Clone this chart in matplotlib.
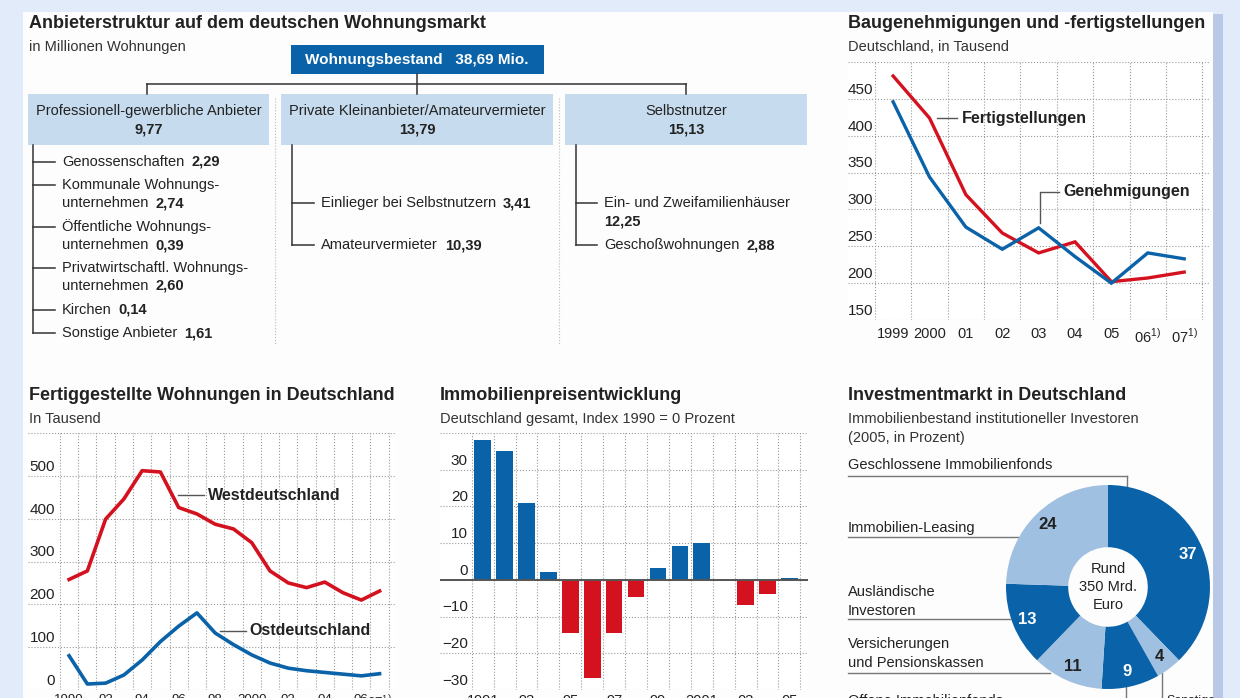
import numpy as np
import matplotlib
matplotlib.use("Agg")
import matplotlib.pyplot as plt
from matplotlib.patches import Rectangle

plt.rcParams['font.family'] = ['Liberation Sans Narrow', 'Liberation Sans', 'DejaVu Sans']
plt.rcParams['mathtext.fontset'] = 'custom'
plt.rcParams['mathtext.rm'] = 'Liberation Sans'

W, H = 1240, 698

# ---- Daten
bestand = "38,69 Mio."
anbieter = ["Professionell-gewerbliche Anbieter", "Private Kleinanbieter/Amateurvermieter", "Selbstnutzer"]
anbieter_werte = ["9,77", "13,79", "15,13"]
prof_items = ["Genossenschaften", "Kommunale Wohnungs-\nunternehmen", "Öffentliche Wohnungs-\nunternehmen",
              "Privatwirtschaftl. Wohnungs-\nunternehmen", "Kirchen", "Sonstige Anbieter"]
prof_werte = ["2,29", "2,74", "0,39", "2,60", "0,14", "1,61"]
priv_items = ["Einlieger bei Selbstnutzern", "Amateurvermieter"]
priv_werte = ["3,41", "10,39"]
selbst_items = ["Ein- und Zweifamilienhäuser", "Geschoßwohnungen"]
selbst_werte = ["12,25", "2,88"]

bau_years = ["1999", "2000", "01", "02", "03", "04", "05", "06$^{1)}$", "07$^{1)}$"]
fertigstellungen = [481, 424, 320, 268, 241, 256, 202, 207, 215]
genehmigungen = [446, 344, 276, 246, 275, 236, 200, 241, 233]

fw_years = ["1990", "92", "94", "96", "98", "2000", "02", "04", "06", "07$^{1)}$"]
west = [258, 278, 399, 446, 512, 509, 426, 411, 387, 376, 344, 278, 250, 239, 252, 227, 210, 231]
ost = [80, 14, 16, 35, 70, 113, 149, 180, 133, 106, 82, 63, 51, 45, 41, 37, 33, 38]

preis_years = ["1991", "93", "95", "97", "99", "2001", "03", "05"]
preis = [38, 35, 21, 2.2, -14.6, -26.6, -14.6, -4.7, 3.2, 9.2, 10.1, 0, -6.8, -3.8, 0.6]

invest_labels = ["Geschlossene Immobilienfonds", "Sonstige", "Offene Immobilienfonds",
                 "Versicherungen\nund Pensionskassen", "Ausländische\nInvestoren", "Immobilien-Leasing"]
invest_values = [37, 4, 9, 11, 13, 24]

RED = '#d4121f'
BLUE = '#0a62a8'
LIGHT = '#9fc0e1'
BOXBLUE = '#c6dbee'
TXT = '#222222'
GRID = '#9a9a9a'

fig = plt.figure(figsize=(W / 100, H / 100), dpi=100, facecolor='#e2ebfa')


def px_axes(x0, y0, x1, y1):
    return fig.add_axes([x0 / W, 1 - y1 / H, (x1 - x0) / W, (y1 - y0) / H])


bg = fig.add_axes([0, 0, 1, 1])
bg.set_xlim(0, W)
bg.set_ylim(H, 0)
bg.axis('off')
bg.add_patch(Rectangle((1213, 14), 10, H, color='#b9c8e5', lw=0))
bg.add_patch(Rectangle((23, 12), 1190, H, color='#fdfdfd', lw=0))


def title(x, y, t, sub):
    bg.text(x, y, t, fontsize=13, fontweight='bold', color=TXT, va='center')
    for i, s in enumerate(sub):
        bg.text(x, y + 23 + 19 * i, s, fontsize=10.5, color='#333333', va='center')


# ---- Anbieterstruktur
title(29, 24, "Anbieterstruktur auf dem deutschen Wohnungsmarkt", ["in Millionen Wohnungen"])
bg.add_patch(Rectangle((291, 45), 253, 29, color=BLUE, lw=0))
bg.text(417, 60, "Wohnungsbestand   " + bestand, color='white', fontsize=11, fontweight='bold',
        ha='center', va='center')
bg.plot([147, 686], [84, 84], color='#333', lw=1.1)
for x in [147, 686]:
    bg.plot([x, x], [84, 94], color='#333', lw=1.1)
bg.plot([417, 417], [74, 94], color='#333', lw=1.1)
boxes = [(28, 269), (281, 553), (565, 807)]
for (x0, x1), name, val in zip(boxes, anbieter, anbieter_werte):
    bg.add_patch(Rectangle((x0, 94), x1 - x0, 51, color=BOXBLUE, lw=0))
    bg.text((x0 + x1) / 2, 111, name, fontsize=10.5, color=TXT, ha='center', va='center')
    bg.text((x0 + x1) / 2, 129, val, fontsize=10.5, fontweight='bold', color=TXT, ha='center', va='center')
for x in [275, 559]:
    bg.plot([x, x], [98, 345], color='#bbbbbb', lw=0.8, ls=':')


def item(x_line, x_text, y, label, value, newline=False):
    bg.plot([x_line, x_text - 7], [y, y], color='#333', lw=1.1)
    lines = label.split("\n")
    t = None
    for k, ln in enumerate(lines):
        t = bg.text(x_text, y + 18 * k, ln, fontsize=10.5, color=TXT, va='center')
    if newline:
        bg.text(x_text, y + 18, value, fontsize=10.5, fontweight='bold', color=TXT, va='center')
    else:
        bg.annotate(value, xy=(1, 0.5), xycoords=t, xytext=(5, 0), textcoords='offset points',
                    fontsize=10.5, fontweight='bold', color=TXT, va='center')


prof_y = [162, 185, 227, 268, 310, 333]
bg.plot([33, 33], [145, 333], color='#333', lw=1.1)
for y, lab, v in zip(prof_y, prof_items, prof_werte):
    item(33, 62, y, lab, v)
bg.plot([292, 292], [145, 245], color='#333', lw=1.1)
for y, lab, v in zip([203, 245], priv_items, priv_werte):
    item(292, 321, y, lab, v)
bg.plot([576, 576], [145, 245], color='#333', lw=1.1)
for y, lab, v, nl in zip([203, 245], selbst_items, selbst_werte, [True, False]):
    item(576, 604, y, lab, v, newline=nl)

# ---- Baugenehmigungen
title(848, 24, "Baugenehmigungen und -fertigstellungen", ["Deutschland, in Tausend"])
ax = px_axes(848, 62, 1210, 320)
ax.set_xlim(-1.24, 8.71)
ax.set_ylim(150, 500)
for v in range(150, 501, 50):
    ax.axhline(v, color=GRID, lw=0.8, ls=':')
for v in np.arange(-0.5, 9):
    ax.axvline(v, color=GRID, lw=0.8, ls=':')
for v in range(150, 451, 50):
    ax.text(-0.55, v + 3, str(v), fontsize=11, color=TXT, ha='right', va='bottom')
xs = np.arange(len(bau_years))
ax.plot(xs, fertigstellungen, color=RED, lw=2.4, solid_joinstyle='miter')
ax.plot(xs, genehmigungen, color=BLUE, lw=2.4, solid_joinstyle='miter')
ax.set_xticks(xs)
ax.set_xticklabels(bau_years, fontsize=10.5, color=TXT)
ax.set_yticks([])
ax.tick_params(length=0, pad=5)
for s in ax.spines.values():
    s.set_visible(False)
ax.plot([1.21, 1.76], [424, 424], color='#555', lw=1)
ax.text(1.88, 424, "Fertigstellungen", fontsize=11.5, fontweight='bold', color=TXT, va='center')
ax.plot([4.04, 4.04, 4.55], [282, 324, 324], color='#555', lw=1)
ax.text(4.67, 324, "Genehmigungen", fontsize=11.5, fontweight='bold', color=TXT, va='center')

# ---- Fertiggestellte Wohnungen
title(29, 396, "Fertiggestellte Wohnungen in Deutschland", ["In Tausend"])
ax = px_axes(28, 433, 396, 690)
ax.set_xlim(-2.25, 17.9)
ax.set_ylim(0, 600)
for v in range(0, 601, 100):
    ax.axhline(v, color=GRID, lw=0.8, ls=':')
for v in np.arange(-0.5, 18):
    ax.axvline(v, color=GRID, lw=0.8, ls=':')
for v in range(0, 501, 100):
    ax.text(-0.77, v + 5, str(v), fontsize=11, color=TXT, ha='right', va='bottom')
xs = np.arange(len(west))
ax.plot(xs, west, color=RED, lw=2.6, solid_joinstyle='round')
ax.plot(xs, ost, color=BLUE, lw=2.6, solid_joinstyle='round')
ax.set_xticks([0, 2, 4, 6, 8, 10, 12, 14, 16, 17])
ax.set_xticklabels(fw_years, fontsize=9.5, color=TXT)
ax.set_yticks([])
ax.tick_params(length=0, pad=3)
for s in ax.spines.values():
    s.set_visible(False)
ax.plot([5.97, 7.4], [455, 455], color='#555', lw=1)
ax.text(7.6, 455, "Westdeutschland", fontsize=11.5, fontweight='bold', color=TXT, va='center')
ax.plot([8.27, 9.7], [138, 138], color='#555', lw=1)
ax.text(9.85, 138, "Ostdeutschland", fontsize=11.5, fontweight='bold', color=TXT, va='center')

# ---- Immobilienpreisentwicklung
title(440, 396, "Immobilienpreisentwicklung", ["Deutschland gesamt, Index 1990 = 0 Prozent"])
ax = px_axes(440, 433, 808, 690)
ax.set_xlim(-1.95, 14.85)
ax.set_ylim(-30, 40)
for v in range(-30, 41, 10):
    ax.axhline(v, color=GRID, lw=0.8, ls=':')
for v in np.arange(-0.5, 15):
    ax.axvline(v, color=GRID, lw=0.8, ls=':')
for v in range(-30, 31, 10):
    ax.text(-0.68, v + 0.6, str(v).replace('-', '\u2212'), fontsize=11, color=TXT, ha='right', va='bottom')
xs = np.arange(len(preis))
ax.bar(xs, preis, width=0.76, color=[BLUE if p >= 0 else RED for p in preis], zorder=3)
ax.axhline(0, color='#555555', lw=1.4, zorder=4)
ax.set_xticks(xs[::2])
ax.set_xticklabels(preis_years, fontsize=10.5, color=TXT)
ax.set_yticks([])
ax.tick_params(length=0, pad=3)
for s in ax.spines.values():
    s.set_visible(False)

# ---- Investmentmarkt
title(848, 396, "Investmentmarkt in Deutschland",
      ["Immobilienbestand institutioneller Investoren", "(2005, in Prozent)"])
ax = px_axes(1006, 485, 1210, 689)
cols = [BLUE, LIGHT, BLUE, LIGHT, BLUE, LIGHT]
wedges, _ = ax.pie(invest_values, colors=cols, startangle=90, counterclock=False, radius=1,
                   wedgeprops=dict(width=0.61, linewidth=0))
ax.set_xlim(-1, 1)
ax.set_ylim(-1, 1)
ax.set_aspect('equal')
for w, v, c in zip(wedges, invest_values, cols):
    a = np.deg2rad((w.theta1 + w.theta2) / 2)
    ax.text(0.85 * np.cos(a), 0.85 * np.sin(a), str(v), fontsize=12, fontweight='bold',
            color='white' if c == BLUE else TXT, ha='center', va='center')
ax.text(0, 0, "Rund\n350 Mrd.\nEuro", fontsize=10.5, color=TXT, ha='center', va='center', linespacing=1.35)

lab_pos = {0: (465, 476, 1127), 5: (528, 537, 1020), 4: (611, 619, 1010), 3: (663, 673, 1050)}
for i, (yt, yl, xe) in lab_pos.items():
    lines = invest_labels[i].split("\n")
    for k, ln in enumerate(lines):
        bg.text(848, yt - 19 * (len(lines) - 1 - k), ln, fontsize=10.5, color=TXT, va='center')
    bg.plot([848, xe], [yl, yl], color='#777', lw=1)
bg.plot([1127, 1127], [476, 487], color='#777', lw=1)
bg.plot([1126, 1126], [687, 700], color='#777', lw=1)
bg.text(848, 701, invest_labels[2], fontsize=10.5, color=TXT, va='center')
bg.plot([1162, 1162], [673, 700], color='#777', lw=1)
bg.text(1166, 701, invest_labels[1], fontsize=9, color=TXT, va='center')

fig.savefig("out.png", dpi=100, facecolor=fig.get_facecolor())
